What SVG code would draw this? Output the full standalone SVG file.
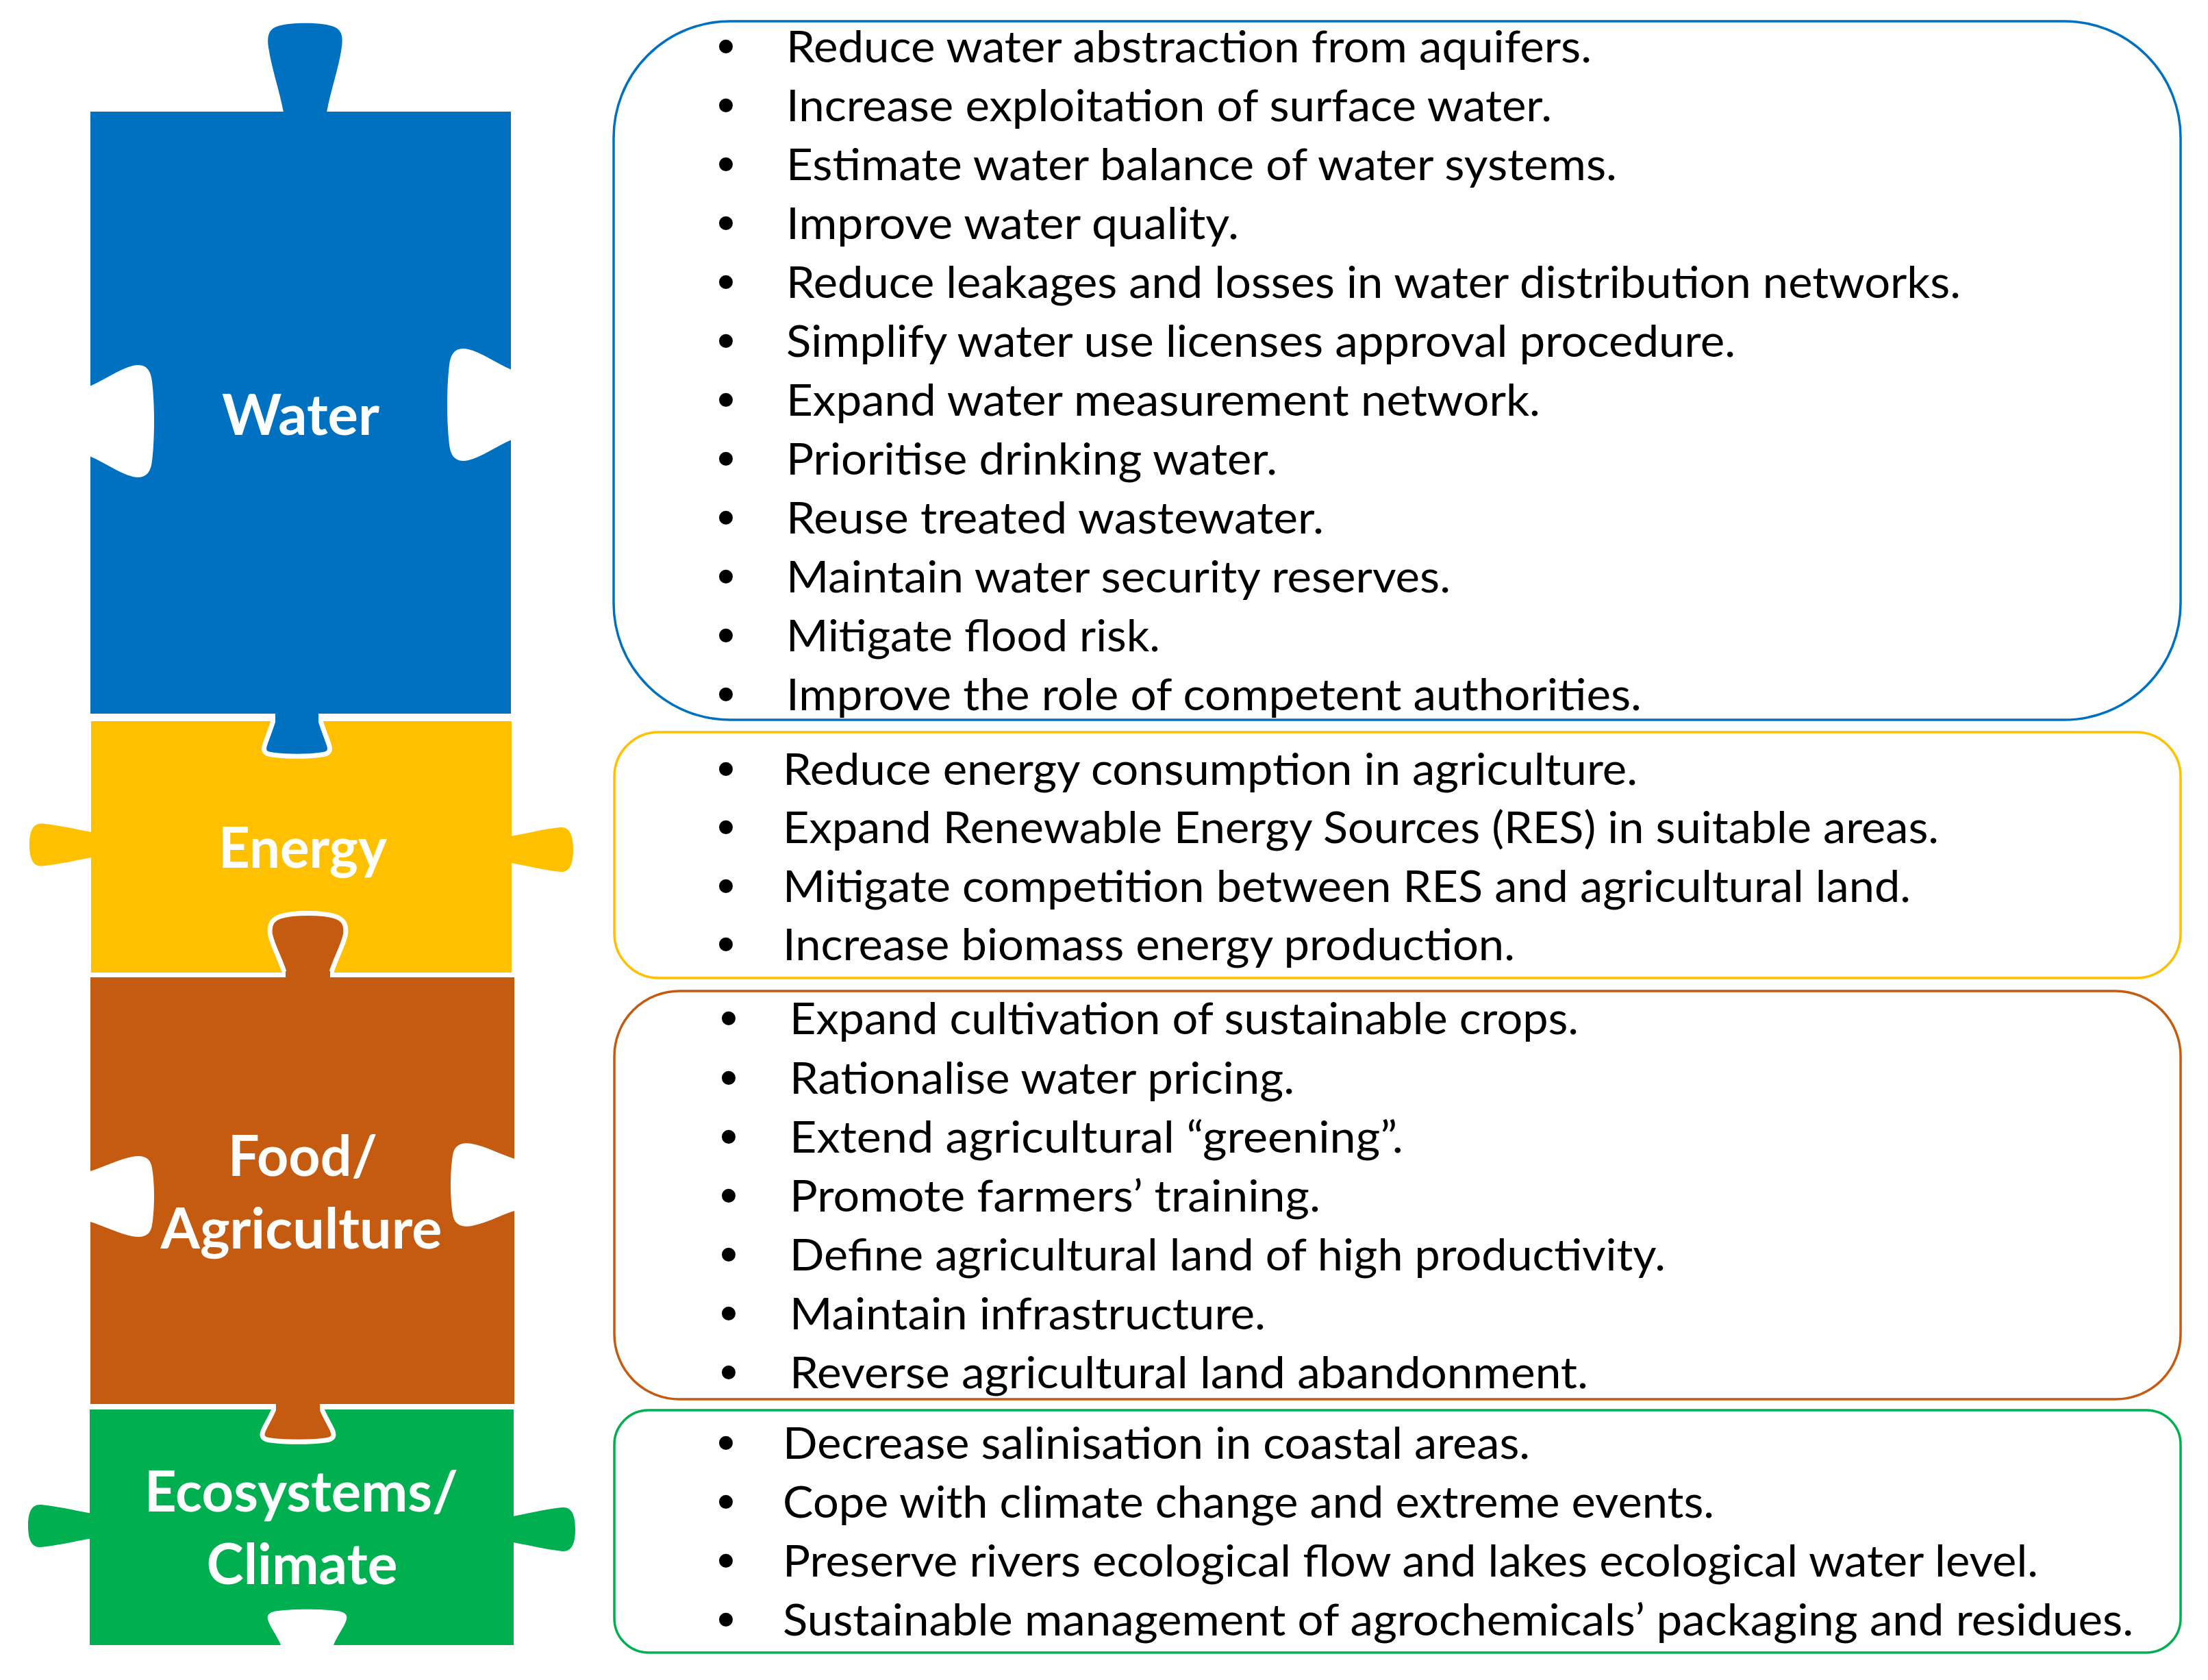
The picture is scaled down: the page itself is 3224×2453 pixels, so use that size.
<svg xmlns="http://www.w3.org/2000/svg" xmlns:xlink="http://www.w3.org/1999/xlink" width="3224" height="2453" viewBox="0 0 3224 2453">
<defs>
<style>
.lbl{font-family:Lato,"Liberation Sans",sans-serif;font-weight:bold;font-size:82px;fill:#fff;text-anchor:middle}
.t{font-family:Lato,"Liberation Sans",sans-serif;font-size:63px;fill:#000}
.b{font-family:"Liberation Sans",sans-serif;font-size:74px;fill:#000;text-anchor:middle}
.box{fill:#fff;stroke-width:3.5}
.ol{stroke:#fff;stroke-width:7;stroke-linejoin:round}
</style>
<path id="tabUp" d="M -31.5,6 L -31.5,0 C -37,-30 -49,-65 -53,-92 C -56,-110 -54,-120 -42,-125 C -25,-132 25,-132 42,-125 C 54,-120 56,-110 53,-92 C 49,-65 37,-30 31.5,0 L 31.5,6 Z"/>
<path id="notch" d="M -4,-51.5 L 0,-51.5 C 20,-60 42,-76 62,-81 C 80,-85 88,-76 90,-58 C 94,-25 94,25 90,58 C 88,76 80,85 62,81 C 42,76 20,60 0,51.5 L -4,51.5 Z"/>
<path id="tabSide" d="M 4,-18.5 L 0,-18.5 C -25,-23 -50,-29 -72,-31 C -86,-32 -91,-20 -91,0 C -91,20 -86,32 -72,31 C -50,29 -25,23 0,18.5 L 4,18.5 Z"/>
</defs>
<rect width="3224" height="2453" fill="#fff"/>

<g id="piece-ecosystems">
<rect x="131" y="2058" width="619" height="344" fill="#00B050"/>
<use xlink:href="#tabSide" transform="translate(132,2228)" fill="#00B050"/>
<use xlink:href="#tabSide" transform="translate(749,2233) scale(-1,1.03)" fill="#00B050"/>
<path fill="#fff" transform="translate(448.5,2402)" d="M -38.5,4 L -38.5,0 C -44,-14 -54,-26 -57,-36 C -60,-44 -55,-49 -42,-50 C -20,-53 20,-53 42,-50 C 55,-49 60,-44 57,-36 C 54,-26 44,-14 38.5,0 L 38.5,4 Z"/>
<text class="lbl" x="440" y="2207" textLength="458" lengthAdjust="spacingAndGlyphs">Ecosystems/</text>
<text class="lbl" x="441" y="2313" textLength="279" lengthAdjust="spacingAndGlyphs">Climate</text>
</g>

<g id="piece-energy">
<rect x="133" y="1053" width="614" height="367" fill="#FFC000"/>
<use xlink:href="#tabSide" transform="translate(134,1233.5)" fill="#FFC000"/>
<use xlink:href="#tabSide" transform="translate(746,1240.5) scale(-1,1.05)" fill="#FFC000"/>
<text class="lbl" x="442" y="1267" textLength="246" lengthAdjust="spacingAndGlyphs">Energy</text>
</g>

<g id="piece-food">
<path class="ol" fill="#C55A11" transform="translate(449.5,1426)" d="M -32.5,8 L -32.5,0 C -38,-22 -52,-45 -55,-62 C -57,-76 -52,-84 -40,-88 C -22,-94 22,-94 40,-88 C 52,-84 57,-76 55,-62 C 52,-45 38,-22 32.5,0 L 32.5,8 Z"/>
<path class="ol" fill="#C55A11" transform="translate(435,2050)" d="M -32,-8 L -32,0 C -37,15 -47,30 -51,40 C -54,48 -50,52 -40,53 C -18,56 18,56 40,53 C 50,52 54,48 51,40 C 47,30 37,15 32,0 L 32,-8 Z"/>
<rect x="132" y="1427" width="619" height="623" fill="#C55A11"/>
<path fill="#C55A11" d="M 417,1418 L 482,1418 L 482,1430 L 417,1430 Z"/>
<path fill="#C55A11" d="M 403,2046 L 467,2046 L 467,2060 L 403,2060 Z"/>
<use xlink:href="#notch" transform="translate(132,1747) scale(1,0.72)" fill="#fff"/>
<use xlink:href="#notch" transform="translate(751,1730) scale(-1,0.74)" fill="#fff"/>
<text class="lbl" x="442" y="1717" textLength="218" lengthAdjust="spacingAndGlyphs">Food/</text>
<text class="lbl" x="440" y="1823" textLength="411" lengthAdjust="spacingAndGlyphs">Agriculture</text>
</g>

<g id="piece-water">
<path class="ol" fill="#0070C0" transform="translate(433.5,1042)" d="M -31.5,-8 L -31.5,0 C -36,18 -44,36 -47,46 C -50,55 -46,59 -36,60 C -15,63 15,63 36,60 C 46,59 50,55 47,46 C 44,36 36,18 31.5,0 L 31.5,-8 Z"/>
<rect x="132" y="163" width="614" height="879" fill="#0070C0"/>
<path fill="#0070C0" d="M 402,1038 L 465,1038 L 465,1056 L 402,1056 Z"/>
<use xlink:href="#tabUp" transform="translate(445.5,164)" fill="#0070C0"/>
<use xlink:href="#notch" transform="translate(132,615)" fill="#fff"/>
<use xlink:href="#notch" transform="translate(746,591) scale(-1,1)" fill="#fff"/>
<text class="lbl" x="439" y="635" textLength="230" lengthAdjust="spacingAndGlyphs">Water</text>
</g>

<g id="box-water">
<rect class="box" x="896" y="31" width="2288" height="1020" rx="170" ry="170" stroke="#0070C0"/>
<text class="b" x="1060" y="93">•</text><text class="t" x="1148" y="91" textLength="1176" lengthAdjust="spacingAndGlyphs">Reduce water abstraction from aquifers.</text>
<text class="b" x="1060" y="179">•</text><text class="t" x="1148" y="177" textLength="1118" lengthAdjust="spacingAndGlyphs">Increase exploitation of surface water.</text>
<text class="b" x="1060" y="265">•</text><text class="t" x="1148" y="263" textLength="1213" lengthAdjust="spacingAndGlyphs">Estimate water balance of water systems.</text>
<text class="b" x="1060" y="351">•</text><text class="t" x="1148" y="349" textLength="661" lengthAdjust="spacingAndGlyphs">Improve water quality.</text>
<text class="b" x="1060" y="437">•</text><text class="t" x="1148" y="435" textLength="1715" lengthAdjust="spacingAndGlyphs">Reduce leakages and losses in water distribution networks.</text>
<text class="b" x="1060" y="523">•</text><text class="t" x="1148" y="521" textLength="1386" lengthAdjust="spacingAndGlyphs">Simplify water use licenses approval procedure.</text>
<text class="b" x="1060" y="609">•</text><text class="t" x="1148" y="607" textLength="1101" lengthAdjust="spacingAndGlyphs">Expand water measurement network.</text>
<text class="b" x="1060" y="695">•</text><text class="t" x="1148" y="693" textLength="717" lengthAdjust="spacingAndGlyphs">Prioritise drinking water.</text>
<text class="b" x="1060" y="781">•</text><text class="t" x="1148" y="779" textLength="785" lengthAdjust="spacingAndGlyphs">Reuse treated wastewater.</text>
<text class="b" x="1060" y="867">•</text><text class="t" x="1148" y="865" textLength="970" lengthAdjust="spacingAndGlyphs">Maintain water security reserves.</text>
<text class="b" x="1060" y="953">•</text><text class="t" x="1148" y="951" textLength="546" lengthAdjust="spacingAndGlyphs">Mitigate flood risk.</text>
<text class="b" x="1060" y="1039">•</text><text class="t" x="1148" y="1037" textLength="1249" lengthAdjust="spacingAndGlyphs">Improve the role of competent authorities.</text>
</g>

<g id="box-energy">
<rect class="box" x="897" y="1069" width="2287" height="359" rx="65" ry="65" stroke="#FFC000"/>
<text class="b" x="1060" y="1148">•</text><text class="t" x="1143" y="1146" textLength="1248" lengthAdjust="spacingAndGlyphs">Reduce energy consumption in agriculture.</text>
<text class="b" x="1060" y="1233">•</text><text class="t" x="1143" y="1231" textLength="1688" lengthAdjust="spacingAndGlyphs">Expand Renewable Energy Sources (RES) in suitable areas.</text>
<text class="b" x="1060" y="1319">•</text><text class="t" x="1143" y="1317" textLength="1647" lengthAdjust="spacingAndGlyphs">Mitigate competition between RES and agricultural land.</text>
<text class="b" x="1060" y="1404">•</text><text class="t" x="1143" y="1402" textLength="1069" lengthAdjust="spacingAndGlyphs">Increase biomass energy production.</text>
</g>

<g id="box-food">
<rect class="box" x="897" y="1447" width="2287" height="596" rx="95" ry="95" stroke="#C55A11"/>
<text class="b" x="1064" y="1512">•</text><text class="t" x="1153" y="1510" textLength="1152" lengthAdjust="spacingAndGlyphs">Expand cultivation of sustainable crops.</text>
<text class="b" x="1064" y="1599">•</text><text class="t" x="1153" y="1597" textLength="737" lengthAdjust="spacingAndGlyphs">Rationalise water pricing.</text>
<text class="b" x="1064" y="1685">•</text><text class="t" x="1153" y="1683" textLength="896" lengthAdjust="spacingAndGlyphs">Extend agricultural “greening”.</text>
<text class="b" x="1064" y="1771">•</text><text class="t" x="1153" y="1769" textLength="775" lengthAdjust="spacingAndGlyphs">Promote farmers’ training.</text>
<text class="b" x="1064" y="1857">•</text><text class="t" x="1153" y="1855" textLength="1279" lengthAdjust="spacingAndGlyphs">Define agricultural land of high productivity.</text>
<text class="b" x="1064" y="1943">•</text><text class="t" x="1153" y="1941" textLength="695" lengthAdjust="spacingAndGlyphs">Maintain infrastructure.</text>
<text class="b" x="1064" y="2029">•</text><text class="t" x="1153" y="2027" textLength="1166" lengthAdjust="spacingAndGlyphs">Reverse agricultural land abandonment.</text>
</g>

<g id="box-ecosystems">
<rect class="box" x="897" y="2059" width="2287" height="354" rx="50" ry="50" stroke="#00B050"/>
<text class="b" x="1060" y="2132">•</text><text class="t" x="1143" y="2130" textLength="1091" lengthAdjust="spacingAndGlyphs">Decrease salinisation in coastal areas.</text>
<text class="b" x="1060" y="2218">•</text><text class="t" x="1143" y="2216" textLength="1360" lengthAdjust="spacingAndGlyphs">Cope with climate change and extreme events.</text>
<text class="b" x="1060" y="2304">•</text><text class="t" x="1143" y="2302" textLength="1833" lengthAdjust="spacingAndGlyphs">Preserve rivers ecological flow and lakes ecological water level.</text>
<text class="b" x="1060" y="2390">•</text><text class="t" x="1143" y="2388" textLength="1972" lengthAdjust="spacingAndGlyphs">Sustainable management of agrochemicals’ packaging and residues.</text>
</g>

<g id="connectors"/>
</svg>
